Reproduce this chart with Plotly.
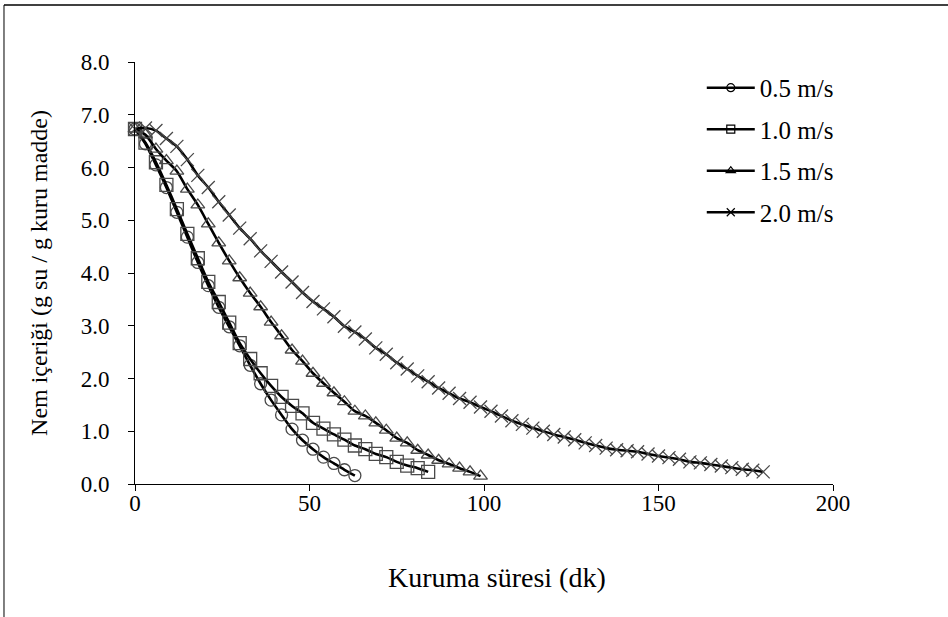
import plotly.graph_objects as go

# ---- data ----
t_05 = list(range(0, 64, 3))
m_05 = [6.73, 6.45, 6.05, 5.62, 5.15, 4.68, 4.20, 3.76, 3.35, 2.98, 2.62,
        2.25, 1.90, 1.59, 1.31, 1.04, 0.83, 0.66, 0.51, 0.39, 0.27, 0.16]

t_10 = list(range(0, 85, 3))
m_10 = [6.73, 6.47, 6.10, 5.67, 5.21, 4.74, 4.28, 3.83, 3.45, 3.06, 2.67,
        2.37, 2.10, 1.86, 1.65, 1.48, 1.34, 1.16, 1.05, 0.94, 0.84, 0.73,
        0.66, 0.57, 0.51, 0.42, 0.35, 0.30, 0.23]

t_15 = list(range(0, 100, 3))
m_15 = [6.73, 6.62, 6.35, 6.13, 5.93, 5.59, 5.29, 4.93, 4.57, 4.23, 3.91,
        3.62, 3.36, 3.07, 2.81, 2.54, 2.33, 2.10, 1.91, 1.73, 1.56, 1.38,
        1.29, 1.16, 1.02, 0.87, 0.78, 0.64, 0.55, 0.45, 0.38, 0.30, 0.23, 0.15]

t_20 = list(range(0, 181, 3))
m_20 = [6.73, 6.75, 6.70, 6.55, 6.40, 6.15, 5.85, 5.62, 5.35, 5.10, 4.85,
        4.65, 4.42, 4.22, 4.02, 3.83, 3.63, 3.46, 3.32, 3.17, 2.99, 2.88,
        2.75, 2.58, 2.46, 2.30, 2.18, 2.05, 1.94, 1.82, 1.72, 1.62, 1.55,
        1.46, 1.38, 1.29, 1.20, 1.13, 1.06, 1.00, 0.94, 0.89, 0.84, 0.78,
        0.73, 0.68, 0.65, 0.63, 0.61, 0.57, 0.53, 0.50, 0.47, 0.42, 0.40,
        0.37, 0.34, 0.31, 0.28, 0.26, 0.23]

series_names = ["0.5 m/s", "1.0 m/s", "1.5 m/s", "2.0 m/s"]
series_t = [t_05, t_10, t_15, t_20]
series_m = [m_05, m_10, m_15, m_20]
symbols = ["circle-open", "square-open", "triangle-up-open", "x-thin-open"]
sizes = [12, 13, 12, 13]

x_ticks = [0, 50, 100, 150, 200]
y_ticks = [0, 1, 2, 3, 4, 5, 6, 7, 8]
y_tick_labels = ["0.0", "1.0", "2.0", "3.0", "4.0", "5.0", "6.0", "7.0", "8.0"]
x_title = "Kuruma süresi (dk)"
y_title = "Nem içeriği (g su / g kuru madde)"

FONT = "Liberation Serif"
MARK = "#4a4a4a"

fig = go.Figure()
for name, t, m, sym, sz in zip(series_names, series_t, series_m, symbols, sizes):
    fig.add_trace(go.Scatter(
        x=t, y=m, name=name, mode="lines+markers", showlegend=False,
        line=dict(color="black", width=2.6, shape="spline", smoothing=0.6),
        marker=dict(symbol=sym, size=sz, color=MARK,
                    line=dict(width=1.3, color=MARK)),
        cliponaxis=False,
    ))
# legend entries (smaller markers, as in the reference legend)
for i, (name, sym) in enumerate(zip(series_names, symbols)):
    fig.add_trace(go.Scatter(
        x=[None], y=[None], name=name, mode="lines+markers",
        legendgroup=f"g{i}",
        line=dict(color="black", width=2.6),
        marker=dict(symbol=sym, size=8, color="black",
                    line=dict(width=1.2, color="black")),
    ))

fig.update_layout(
    width=948, height=617,
    margin=dict(l=135, r=115, t=62, b=133),
    paper_bgcolor="white", plot_bgcolor="white",
    font=dict(family=FONT, size=23, color="black"),
    showlegend=True,
    legend=dict(x=0.812, y=0.993, xanchor="left", yanchor="top",
                font=dict(family=FONT, size=25, color="black"),
                bgcolor="rgba(0,0,0,0)", tracegroupgap=6,
                itemwidth=48),
    xaxis=dict(range=[0, 200], tickvals=x_ticks, ticks="outside", ticklen=6,
               tickwidth=1, tickcolor="black", showline=True, linecolor="black",
               linewidth=1, showgrid=False, zeroline=False,
               ticklabelstandoff=-8,
               tickfont=dict(family=FONT, size=23)),
    yaxis=dict(range=[0, 8], tickvals=y_ticks, ticktext=y_tick_labels,
               ticks="outside", ticklen=6, tickwidth=1, tickcolor="black",
               showline=True, linecolor="black", linewidth=1, showgrid=False,
               zeroline=False, ticklabelstandoff=14,
               tickfont=dict(family=FONT, size=23),
               title=dict(text=y_title,
                          font=dict(family=FONT, size=24), standoff=26)),
    annotations=[
        dict(text=x_title, xref="paper", yref="paper", x=0.519, y=-0.222,
             xanchor="center", yanchor="middle", showarrow=False,
             font=dict(family=FONT, size=28, color="black")),
    ],
    shapes=[
        dict(type="line", xref="paper", yref="paper",
             x0=-0.1877, x1=1.17, y0=1.135, y1=1.135,
             line=dict(color="black", width=1.5)),
        dict(type="line", xref="paper", yref="paper",
             x0=-0.1877, x1=-0.1877, y0=1.135, y1=-0.32,
             line=dict(color="black", width=1)),
    ],
)

fig.write_html("out.html")
